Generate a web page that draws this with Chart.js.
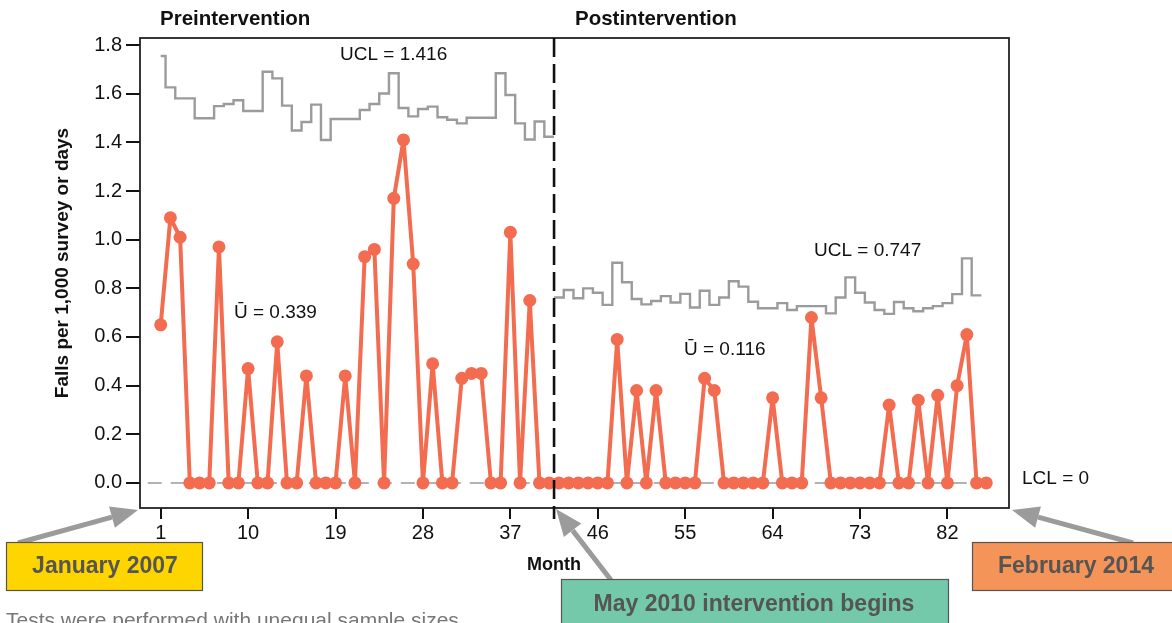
<!DOCTYPE html>
<html>
<head>
<meta charset="utf-8">
<script src="https://cdn.jsdelivr.net/npm/chart.js@4.4.1/dist/chart.umd.min.js"></script>
<style>
  body { margin: 0; background: #fff; }
  #wrap { width: 1172px; height: 623px; overflow: hidden; }
</style>
</head>
<body>
<div id="wrap"><canvas id="chart" width="1172" height="623"></canvas></div>
<script>
// ================= DATA =================
// falls per 1,000 survey or days, month 1 = January 2007 ... month 86 = February 2014
const falls = [
  0.65, 1.09, 1.01, 0, 0, 0, 0.97, 0, 0, 0.47,
  0, 0, 0.58, 0, 0, 0.44, 0, 0, 0, 0.44,
  0, 0.93, 0.96, 0, 1.17, 1.41, 0.90, 0, 0.49, 0,
  0, 0.43, 0.45, 0.45, 0, 0, 1.03, 0, 0.75, 0,
  0, 0, 0, 0, 0, 0, 0, 0.59, 0, 0.38,
  0, 0.38, 0, 0, 0, 0, 0.43, 0.38, 0, 0,
  0, 0, 0, 0.35, 0, 0, 0, 0.68, 0.35, 0,
  0, 0, 0, 0, 0, 0.32, 0, 0, 0.34, 0,
  0.36, 0, 0.40, 0.61, 0, 0
];
const months = falls.map((_, i) => i + 1);

// upper control limits (unequal sample sizes -> one limit per month)
const uclPre = [
  1.755, 1.626, 1.581, 1.581, 1.499, 1.499, 1.549, 1.558, 1.573, 1.529,
  1.529, 1.690, 1.663, 1.551, 1.449, 1.484, 1.555, 1.410, 1.496, 1.496,
  1.496, 1.533, 1.558, 1.601, 1.684, 1.541, 1.507, 1.537, 1.547, 1.503,
  1.493, 1.478, 1.501, 1.501, 1.501, 1.684, 1.595, 1.478, 1.412, 1.486,
  1.423
];
const uclPost = [
  0.762, 0.793, 0.759, 0.800, 0.782, 0.732, 0.905, 0.825, 0.756, 0.734,
  0.748, 0.768, 0.742, 0.777, 0.721, 0.790, 0.732, 0.762, 0.829, 0.807,
  0.745, 0.718, 0.718, 0.739, 0.711, 0.727, 0.727, 0.727, 0.697, 0.762,
  0.845, 0.782, 0.742, 0.711, 0.695, 0.744, 0.718, 0.706, 0.718, 0.727,
  0.739, 0.776, 0.923, 0.771
];
const lcl = 0;
const interventionMonth = 41.5;   // May 2010

const xTicks = [1, 10, 19, 28, 37, 46, 55, 64, 73, 82];
const yTicks = [0, 0.2, 0.4, 0.6, 0.8, 1.0, 1.2, 1.4, 1.6, 1.8];

// ================= HELPERS =================
function stepPoints(values, firstMonth, startAt) {
  const pts = [];
  values.forEach((v, i) => {
    const m = firstMonth + i;
    pts.push({ x: i === 0 && startAt != null ? startAt : m - 0.5, y: v });
    pts.push({ x: m + 0.5, y: v });
  });
  return pts;
}

const ORANGE = "#f36c50";
const GREY = "#9b9b9b";
const FONT = "'Liberation Sans', Arial, sans-serif";

const xMin = -1.13, xMax = 88.34;
const yMin = -0.103, yMax = 1.829;

function drawArrow(ctx, x1, y1, x2, y2) {
  const ang = Math.atan2(y2 - y1, x2 - x1);
  const headLen = 27, headW = 11;
  const bx = x2 - Math.cos(ang) * headLen;
  const by = y2 - Math.sin(ang) * headLen;
  ctx.save();
  ctx.strokeStyle = GREY;
  ctx.fillStyle = GREY;
  ctx.lineWidth = 5;
  ctx.beginPath();
  ctx.moveTo(x1, y1);
  ctx.lineTo(bx, by);
  ctx.stroke();
  ctx.beginPath();
  ctx.moveTo(x2, y2);
  ctx.lineTo(bx + Math.sin(ang) * headW, by - Math.cos(ang) * headW);
  ctx.lineTo(bx - Math.sin(ang) * headW, by + Math.cos(ang) * headW);
  ctx.closePath();
  ctx.fill();
  ctx.restore();
}

function drawBox(ctx, x, y, w, h, fill, text, tx, ty) {
  ctx.save();
  ctx.fillStyle = fill;
  ctx.fillRect(x, y, w, h);
  ctx.strokeStyle = "#555";
  ctx.lineWidth = 1.2;
  ctx.strokeRect(x + 0.5, y + 0.5, w - 1, h - 1);
  ctx.fillStyle = "#555";
  ctx.font = "bold 23px " + FONT;
  ctx.textAlign = "center";
  ctx.textBaseline = "middle";
  ctx.fillText(text, tx, ty);
  ctx.restore();
}

// ================= PLUGIN =================
const overlay = {
  id: "overlay",
  afterDatasetsDraw(chart) {
    const { ctx, chartArea: a, scales: { x } } = chart;
    ctx.save();
    // plot frame
    ctx.strokeStyle = "#222";
    ctx.lineWidth = 1.8;
    ctx.strokeRect(a.left, a.top, a.right - a.left, a.bottom - a.top);
    // intervention line
    const ix = x.getPixelForValue(interventionMonth);
    ctx.strokeStyle = "#111";
    ctx.lineWidth = 2.6;
    ctx.setLineDash([19, 7]);
    ctx.beginPath();
    ctx.moveTo(ix, a.top);
    ctx.lineTo(ix, a.bottom);
    ctx.stroke();
    ctx.setLineDash([]);
    ctx.beginPath();
    ctx.moveTo(ix, a.bottom);
    ctx.lineTo(ix, a.bottom + 11);
    ctx.stroke();
    ctx.restore();
  },
  afterDraw(chart) {
    const { ctx, chartArea: a, scales: { x } } = chart;
    ctx.save();
    ctx.fillStyle = "#111";
    ctx.textBaseline = "middle";

    // section titles
    ctx.font = "bold 20.5px " + FONT;
    ctx.textAlign = "left";
    ctx.fillText("Preintervention", 160, 19);
    ctx.fillText("Postintervention", 575, 19);

    // limit labels
    ctx.font = "19px " + FONT;
    ctx.fillText("UCL = 1.416", 340, 55);
    ctx.fillText("UCL = 0.747", 814, 251);
    ctx.fillText("\u016A = 0.339", 234, 313);
    ctx.fillText("\u016A = 0.116", 684, 350);
    ctx.fillText("LCL = 0", 1022, 479);

    // axis titles
    ctx.font = "bold 18px " + FONT;
    ctx.textAlign = "center";
    ctx.fillText("Month", x.getPixelForValue(interventionMonth), 565);
    ctx.save();
    ctx.translate(63, 263);
    ctx.rotate(-Math.PI / 2);
    ctx.font = "bold 19px " + FONT;
    ctx.fillText("Falls per 1,000 survey or days", 0, 0);
    ctx.restore();

    // footnote
    ctx.textAlign = "left";
    ctx.textBaseline = "alphabetic";
    ctx.fillStyle = "#777";
    ctx.font = "21px " + FONT;
    ctx.fillText("Tests were performed with unequal sample sizes", 6, 627);

    // callouts
    const ix = x.getPixelForValue(interventionMonth);
    drawArrow(ctx, 18, 543, a.left - 2, a.bottom + 2);
    drawArrow(ctx, 611, 580, ix + 2, a.bottom + 1);
    drawArrow(ctx, 1133, 543, a.right + 3, a.bottom + 2);
    drawBox(ctx, 6, 542, 197, 49, "#ffd500", "January 2007", 105, 567);
    drawBox(ctx, 561, 579, 388, 60, "#74c9aa", "May 2010 intervention begins", 754, 605);
    drawBox(ctx, 972, 542, 210, 49, "#f59458", "February 2014", 1076, 567);
    ctx.restore();
  }
};

// ================= CHART =================
new Chart(document.getElementById("chart"), {
  type: "line",
  data: {
    datasets: [
      {
        label: "Falls",
        data: months.map((m, i) => ({ x: m, y: falls[i] })),
        borderColor: ORANGE,
        backgroundColor: ORANGE,
        borderWidth: 4,
        borderJoinStyle: "round",
        borderCapStyle: "round",
        pointRadius: 6.5,
        pointBorderWidth: 0,
        pointBackgroundColor: ORANGE,
        order: 0
      },
      {
        label: "UCL pre",
        data: stepPoints(uclPre, 1, 1),
        borderColor: GREY,
        borderWidth: 2.4,
        pointRadius: 0,
        borderJoinStyle: "miter",
        order: 2
      },
      {
        label: "UCL post",
        data: stepPoints(uclPost, 42),
        borderColor: GREY,
        borderWidth: 2.4,
        pointRadius: 0,
        borderJoinStyle: "miter",
        order: 2
      },
      {
        label: "LCL",
        data: [{ x: xMin + 0.8, y: lcl }, { x: xMax - 1.3, y: lcl }],
        borderColor: GREY,
        borderWidth: 1.6,
        borderDash: [14, 9],
        pointRadius: 0,
        order: 3
      }
    ]
  },
  options: {
    responsive: false,
    animation: false,
    layout: { padding: { top: 38, right: 163, left: 0, bottom: 0 } },
    plugins: { legend: { display: false }, tooltip: { enabled: false } },
    scales: {
      x: {
        type: "linear",
        min: xMin,
        max: xMax,
        afterBuildTicks: s => { s.ticks = xTicks.map(v => ({ value: v })); },
        afterFit: s => { s.height = 115; },
        border: { display: false },
        grid: { display: true, drawOnChartArea: false, drawTicks: true, tickLength: 11, color: "#111", lineWidth: 2 },
        ticks: { autoSkip: false, maxRotation: 0, padding: 2, color: "#111", font: { family: FONT, size: 20 } }
      },
      y: {
        min: yMin,
        max: yMax,
        afterBuildTicks: s => { s.ticks = yTicks.map(v => ({ value: v })); },
        afterFit: s => { s.width = 140; },
        border: { display: false },
        grid: { display: true, drawOnChartArea: false, drawTicks: true, tickLength: 14, color: "#111", lineWidth: 2 },
        ticks: { padding: 4, color: "#111", font: { family: FONT, size: 20 }, callback: v => v.toFixed(1) }
      }
    }
  },
  plugins: [overlay]
});
</script>
</body>
</html>
